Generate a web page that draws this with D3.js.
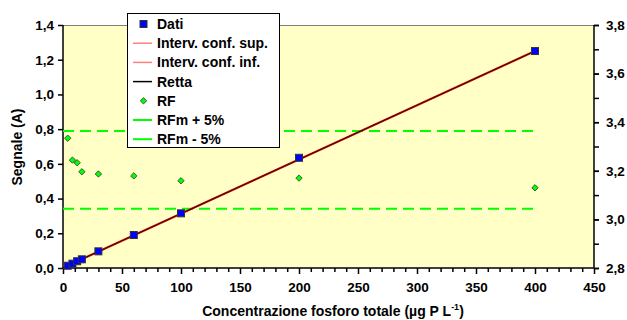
<!DOCTYPE html>
<html>
<head>
<meta charset="utf-8">
<script src="https://cdn.jsdelivr.net/npm/d3@7"></script>
<style>
  body { margin: 0; background: #fff; }
  text { font-family: "Liberation Sans", Arial, sans-serif; font-weight: bold; }
</style>
</head>
<body>
<svg id="chart" width="627" height="320"></svg>
<script>
// concentrazioni (µg P/L) e segnale
var conc = [4, 8, 12, 16, 30, 60, 100, 200, 400];
var segnale = [0.013, 0.025, 0.039, 0.05, 0.096, 0.19, 0.315, 0.635, 1.25];
// fattore di risposta (asse destro)
var rf = [3.334, 3.244, 3.233, 3.196, 3.187, 3.179, 3.159, 3.170, 3.130];
var rfMean = 3.2035;
// retta di taratura
var slope = 0.003122, intercept = 0.001;
var confDelta = 0.004;

var xTicks = [0, 50, 100, 150, 200, 250, 300, 350, 400, 450];
var yLeftTicks = [0, 0.2, 0.4, 0.6, 0.8, 1.0, 1.2, 1.4];
var yRightTicks = [2.8, 3.0, 3.2, 3.4, 3.6, 3.8];
var legendLabels = ["Dati", "Interv. conf. sup.", "Interv. conf. inf.", "Retta", "RF", "RFm + 5%", "RFm - 5%"];

var svg = d3.select("#chart");
var L = 63, R = 594, T = 25, B = 268;

var x = d3.scaleLinear().domain([0, 450]).range([L, R]);
var y = d3.scaleLinear().domain([0, 1.4]).range([B, T]);
var y2 = d3.scaleLinear().domain([2.8, 3.8]).range([B, T]);
var fmt = d3.format(".1f");
var comma = d => fmt(d).replace(".", ",");

svg.append("rect")
  .attr("x", L).attr("y", T).attr("width", R - L).attr("height", B - T)
  .attr("fill", "#ffffc6");
svg.append("line").attr("x1", L).attr("x2", R).attr("y1", T + 0.5).attr("y2", T + 0.5)
  .attr("stroke", "#808080");

// assi
var xMinor = d3.range(0, 451, 10).filter(d => d % 50 != 0);
svg.append("g").attr("transform", `translate(0,${B})`)
  .call(d3.axisBottom(x).tickValues(xMinor).tickSize(4).tickFormat(""))
  .call(g => g.select(".domain").remove());
svg.append("g").attr("transform", `translate(0,${B})`)
  .call(d3.axisBottom(x).tickValues(xTicks).tickSize(6).tickPadding(8).tickFormat(d3.format("d")))
  .call(g => g.select(".domain").attr("d", `M${L},0H${R}`));

svg.append("g").attr("transform", `translate(${L},0)`)
  .call(d3.axisLeft(y).tickValues(yLeftTicks).tickSize(5).tickPadding(4).tickFormat(comma))
  .call(g => g.select(".domain").attr("d", `M0,${B}V${T}`));

svg.append("g").attr("transform", `translate(${R},0)`)
  .call(d3.axisRight(y2).tickValues(d3.range(2.8, 3.85, 0.1)).tickSize(5).tickFormat(""))
  .call(g => g.select(".domain").attr("d", `M0,${B}V${T}`));
svg.append("g").attr("transform", `translate(${R},0)`)
  .call(d3.axisRight(y2).tickValues(yRightTicks).tickSize(5).tickPadding(7).tickFormat(comma))
  .call(g => g.select(".domain").remove());

svg.selectAll(".tick text").attr("font-size", 13.5).attr("fill", "#000");
svg.selectAll(".domain, .tick line").attr("stroke", "#000").attr("stroke-width", 1.5);

// titoli assi
svg.append("text").attr("transform", "translate(22,147) rotate(-90)")
  .attr("text-anchor", "middle").attr("font-size", 14).text("Segnale (A)");
var xt = svg.append("text").attr("x", 333).attr("y", 316)
  .attr("text-anchor", "middle").attr("font-size", 14);
xt.append("tspan").text("Concentrazione fosforo totale (µg P L");
xt.append("tspan").attr("dy", -6).attr("font-size", 9).text("-1");
xt.append("tspan").attr("dy", 6).text(")");

// linee RFm ± 5%
[rfMean * 1.05, rfMean * 0.95].forEach(v => {
  svg.append("line")
    .attr("x1", x(0)).attr("x2", x(400)).attr("y1", y2(v)).attr("y2", y2(v))
    .attr("stroke", "#00ff00").attr("stroke-width", 2).attr("stroke-dasharray", "11,6");
});

// retta e intervalli di confidenza
var line = d3.line().x(d => x(d[0])).y(d => y(d[1]));
[confDelta, -confDelta].forEach(dv => {
  svg.append("path").datum([[0, intercept + dv], [400, intercept + slope * 400 + dv]])
    .attr("d", line).attr("fill", "none").attr("stroke", "#ff0000").attr("stroke-width", 1);
});
svg.append("path").datum([[0, intercept], [400, intercept + slope * 400]])
  .attr("d", line).attr("fill", "none").attr("stroke", "#000").attr("stroke-width", 1);

// punti
svg.selectAll(".rf").data(conc).enter().append("path")
  .attr("class", "rf")
  .attr("d", d3.symbol(d3.symbolDiamond2, 26))
  .attr("transform", (d, i) => `translate(${x(d)},${y2(rf[i])})`)
  .attr("fill", "#00ff00").attr("stroke", "#333").attr("stroke-width", 0.8);

svg.selectAll(".dati").data(conc).enter().append("rect")
  .attr("class", "dati")
  .attr("x", d => x(d) - 3.5).attr("y", (d, i) => y(segnale[i]) - 3.5)
  .attr("width", 7).attr("height", 7)
  .attr("fill", "#0000ff").attr("stroke", "#333").attr("stroke-width", 1);

// legenda
var lg = svg.append("g").attr("transform", "translate(127,13)");
lg.append("rect").attr("x", 0.5).attr("y", 0.5).attr("width", 152).attr("height", 134)
  .attr("fill", "#fff").attr("stroke", "#000");
legendLabels.forEach((lab, i) => {
  var cy = 11 + i * 19.2;
  var row = lg.append("g").attr("transform", `translate(0,${cy})`);
  if (i == 0) {
    row.append("rect").attr("x", 13).attr("y", -3.5).attr("width", 7).attr("height", 7)
      .attr("fill", "#0000ff").attr("stroke", "#333");
  } else if (i == 4) {
    row.append("path").attr("d", d3.symbol(d3.symbolDiamond2, 26))
      .attr("transform", "translate(16.5,0)")
      .attr("fill", "#00ff00").attr("stroke", "#333").attr("stroke-width", 0.8);
  } else {
    var col = i < 3 ? "#ff8080" : (i == 3 ? "#000" : "#00ff00");
    row.append("line").attr("x1", 6).attr("x2", 25).attr("y1", 0).attr("y2", 0)
      .attr("stroke", col).attr("stroke-width", i >= 5 ? 2 : 1.5);
  }
  row.append("text").attr("x", 30).attr("y", 5).attr("font-size", 14).text(lab);
});
</script>
</body>
</html>
